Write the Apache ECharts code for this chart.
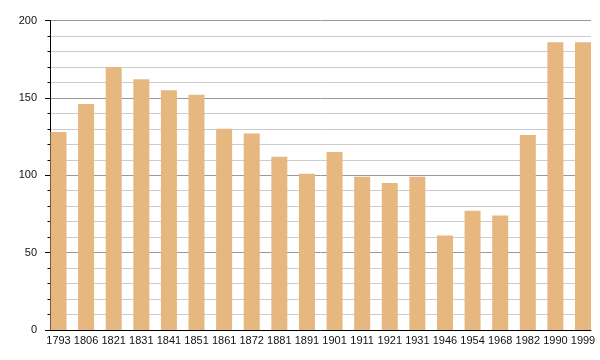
<!DOCTYPE html>
<html><head><meta charset="utf-8">
<script src="https://cdn.jsdelivr.net/npm/echarts@6/dist/echarts.min.js"></script>
<style>html,body{margin:0;padding:0;background:#fff}#c{width:600px;height:360px}</style>
</head><body><div id="c"></div>
<script>
const years = ['1793','1806','1821','1831','1841','1851','1861','1872','1881','1891','1901','1911','1921','1931','1946','1954','1968','1982','1990','1999'];
const population = [128,146,170,162,155,152,130,127,112,101,115,99,95,99,61,77,74,126,186,186];
const yTicks = [0,50,100,150,200];

const chart = echarts.init(document.getElementById('c'), null, {renderer:'canvas'});
const font = 'Liberation Sans, Arial, sans-serif';
chart.setOption({
  animation:false,
  grid:[
    {left:50, right:9, top:20.5, bottom:30},
    {left:58.5, right:17, top:20.5, bottom:30}
  ],
  xAxis:[
    {gridIndex:0, type:'category', data:years, boundaryGap:true,
     axisLine:{lineStyle:{color:'#000', width:1}}, axisTick:{show:false}, axisLabel:{show:false}, splitLine:{show:false}},
    {gridIndex:1, type:'category', data:years, boundaryGap:false,
     axisLine:{show:false}, axisTick:{show:false},
     axisLabel:{color:'#111', fontFamily:font, fontSize:11, margin:5, interval:0}, splitLine:{show:false}}
  ],
  yAxis:[
    {gridIndex:0, type:'value', min:yTicks[0], max:yTicks[yTicks.length-1], interval:50,
     axisLine:{show:true, lineStyle:{color:'#000', width:1}},
     axisTick:{show:true, length:5, lineStyle:{color:'#000'}},
     minorTick:{show:true, splitNumber:5, length:2.5, lineStyle:{color:'#000'}},
     axisLabel:{color:'#111', fontFamily:font, fontSize:11, margin:13},
     splitLine:{show:true, lineStyle:{color:'#999', width:1}},
     minorSplitLine:{show:true, lineStyle:{color:'#ccc', width:1}}},
    {gridIndex:1, type:'value', min:yTicks[0], max:yTicks[yTicks.length-1], interval:50, show:false,
     splitLine:{show:false}}
  ],
  series:[{
    type:'bar', xAxisIndex:1, yAxisIndex:1, data:population, barWidth:16,
    itemStyle:{color:'#e6b87f'}
  }]
});
</script></body></html>
